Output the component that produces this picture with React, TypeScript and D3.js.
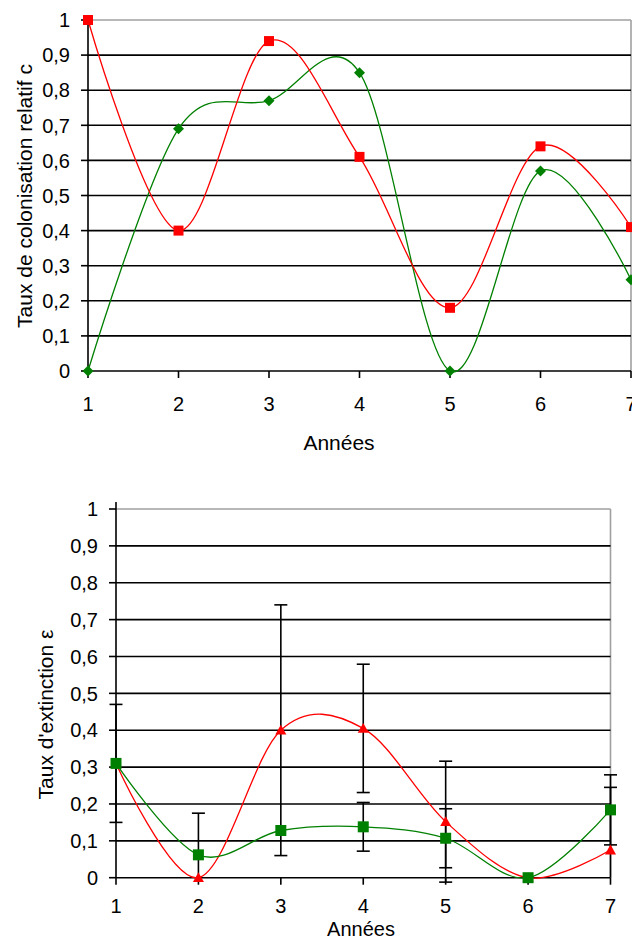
import React from 'react';
import * as d3 from 'd3';

// ---------- data ----------
const years = [1, 2, 3, 4, 5, 6, 7];
const yTicks = [0, 0.1, 0.2, 0.3, 0.4, 0.5, 0.6, 0.7, 0.8, 0.9, 1];
const yTickLabels = ['0', '0,1', '0,2', '0,3', '0,4', '0,5', '0,6', '0,7', '0,8', '0,9', '1'];
const xTickLabels = ['1', '2', '3', '4', '5', '6', '7'];

// Top chart: relative colonisation rate c
const colonisationRed = [1.0, 0.4, 0.94, 0.61, 0.18, 0.64, 0.41];
const colonisationGreen = [0, 0.69, 0.77, 0.85, 0, 0.57, 0.26];

// Bottom chart: extinction rate ε with error bars
const extinctionRed = [0.31, 0, 0.4, 0.405, 0.152, 0, 0.075];
const extinctionGreen = [0.31, 0.062, 0.128, 0.138, 0.107, 0, 0.184];
const extinctionRedErr = [0.16, 0.175, 0.34, 0.174, 0.164, 0, 0.17];
const extinctionGreenErr = [0, 0, 0, 0.066, 0.08, 0, 0.095];

const topTitle = 'Taux de colonisation relatif c';
const bottomTitle = "Taux d'extinction ε";
const xTitle = 'Années';

// ---------- styling ----------
const FONT = '"Liberation Sans", Arial, sans-serif';
const RED = '#ff0000';
const GREEN = '#008000';

type Marker = 'square' | 'diamond' | 'triangle';

interface Series {
  values: number[];
  color: string;
  marker: Marker;
  size: number;
  err?: number[];
}

interface ChartProps {
  x0: number;
  x1: number;
  yTop: number;
  yBottom: number;
  tickLabelRight: number;
  xLabelBaseline: number;
  xTitleX: number;
  xTitleBaseline: number;
  xTitleSize: number;
  titleBaselineX: number;
  titleCenterY: number;
  title: string;
  series: Series[];
  axisExtendTop?: number;
  id: string;
}

function markerPath(m: Marker, s: number): string {
  const h = s / 2;
  if (m === 'square') return `M${-h},${-h}H${h}V${h}H${-h}Z`;
  if (m === 'diamond') return `M0,${-h}L${h},0L0,${h}L${-h},0Z`;
  return `M0,${-h}L${h},${h * 0.8}L${-h},${h * 0.8}Z`;
}

function Chart(p: ChartProps) {
  const x = d3.scaleLinear().domain([1, 7]).range([p.x0, p.x1]);
  const y = d3.scaleLinear().domain([0, 1]).range([p.yBottom, p.yTop]);
  const line = d3
    .line<[number, number]>()
    .x((d) => x(d[0]))
    .y((d) => y(d[1]))
    .curve(d3.curveCatmullRom.alpha(0));
  const tickLen = 7;
  const capHalf = 6.5;

  return (
    <g>
      {/* plot area border (grey) */}
      <line x1={p.x0} x2={p.x1} y1={y(1)} y2={y(1)} stroke="#a0a0a0" strokeWidth={1.6} />
      <line x1={p.x1} x2={p.x1} y1={y(1)} y2={y(0)} stroke="#a0a0a0" strokeWidth={1.6} />
      {/* gridlines */}
      {yTicks
        .filter((t) => t > 0 && t < 1)
        .map((t) => (
          <line key={`g${t}`} x1={p.x0} x2={p.x1} y1={y(t)} y2={y(t)} stroke="#000" strokeWidth={1.6} />
        ))}
      {/* axes */}
      <line x1={p.x0} x2={p.x0} y1={y(1) - (p.axisExtendTop || 0)} y2={y(0)} stroke="#000" strokeWidth={1.6} />
      <line x1={p.x0} x2={p.x1} y1={y(0)} y2={y(0)} stroke="#000" strokeWidth={1.6} />
      {yTicks.map((t) => (
        <line key={`yt${t}`} x1={p.x0 - tickLen} x2={p.x0} y1={y(t)} y2={y(t)} stroke="#000" strokeWidth={1.6} />
      ))}
      {years.map((v) => (
        <line key={`xt${v}`} x1={x(v)} x2={x(v)} y1={y(0)} y2={y(0) + tickLen} stroke="#000" strokeWidth={1.6} />
      ))}
      {/* tick labels */}
      {yTicks.map((t, i) => (
        <text
          key={`yl${t}`}
          x={p.tickLabelRight}
          y={y(t)}
          dy="0.36em"
          textAnchor="end"
          fontFamily={FONT}
          fontSize={20}
          fill="#000"
        >
          {yTickLabels[i]}
        </text>
      ))}
      {years.map((v, i) => (
        <text
          key={`xl${v}`}
          x={x(v)}
          y={p.xLabelBaseline}
          textAnchor="middle"
          fontFamily={FONT}
          fontSize={20}
          fill="#000"
        >
          {xTickLabels[i]}
        </text>
      ))}
      {/* titles */}
      <text
        x={p.xTitleX}
        y={p.xTitleBaseline}
        textAnchor="middle"
        fontFamily={FONT}
        fontSize={p.xTitleSize}
        fill="#000"
      >
        {xTitle}
      </text>
      <text
        transform={`translate(${p.titleBaselineX},${p.titleCenterY}) rotate(-90)`}
        textAnchor="middle"
        fontFamily={FONT}
        fontSize={21}
        fill="#000"
      >
        {p.title}
      </text>
      {/* error bars */}
      {p.series.map((s, si) =>
        s.err
          ? s.values.map((v, i) => {
              const e = s.err![i];
              if (!e) return null;
              const hi = Math.min(v + e, 1);
              const loRaw = v - e;
              const lo = loRaw < -0.02 ? 0 : loRaw;
              const cx = x(years[i]);
              return (
                <g key={`e${si}-${i}`} stroke="#000" strokeWidth={1.6}>
                  <line x1={cx} x2={cx} y1={y(hi)} y2={y(lo)} />
                  <line x1={cx - capHalf} x2={cx + capHalf} y1={y(hi)} y2={y(hi)} />
                  {loRaw >= -0.02 && <line x1={cx - capHalf} x2={cx + capHalf} y1={y(lo)} y2={y(lo)} />}
                </g>
              );
            })
          : null
      )}
      {/* lines */}
      {p.series.map((s, si) => (
        <path
          key={`l${si}`}
          d={line(years.map((yr, i) => [yr, s.values[i]] as [number, number])) || ''}
          fill="none"
          stroke={s.color}
          strokeWidth={1.3}
        />
      ))}
      {/* markers */}
      {p.series.map((s, si) =>
        s.values.map((v, i) => (
          <path
            key={`m${si}-${i}`}
            d={markerPath(s.marker, s.size)}
            transform={`translate(${x(years[i])},${y(v)})`}
            fill={s.color}
          />
        ))
      )}
    </g>
  );
}

export default function App() {
  return (
    <svg
      width={632}
      height={939}
      viewBox="0 0 632 939"
      style={{ position: 'absolute', left: 0, top: 0, background: '#fff' }}
    >
      <rect x={0} y={0} width={632} height={939} fill="#fff" />
      <Chart
        id="top"
        x0={88}
        x1={631}
        yTop={20}
        yBottom={371}
        tickLabelRight={70}
        xLabelBaseline={411}
        xTitleX={339}
        xTitleBaseline={450}
        xTitleSize={21}
        titleBaselineX={32}
        titleCenterY={196}
        title={topTitle}
        series={[
          { values: colonisationGreen, color: GREEN, marker: 'diamond', size: 11 },
          { values: colonisationRed, color: RED, marker: 'square', size: 10 },
        ]}
      />
      <Chart
        id="bottom"
        x0={116}
        x1={610.5}
        yTop={509}
        yBottom={877.7}
        tickLabelRight={98}
        xLabelBaseline={913}
        xTitleX={361}
        xTitleBaseline={935.5}
        xTitleSize={20}
        titleBaselineX={53}
        titleCenterY={714.5}
        title={bottomTitle}
        axisExtendTop={7}
        series={[
          { values: extinctionRed, color: RED, marker: 'triangle', size: 11, err: extinctionRedErr },
          { values: extinctionGreen, color: GREEN, marker: 'square', size: 11, err: extinctionGreenErr },
        ]}
      />
    </svg>
  );
}
